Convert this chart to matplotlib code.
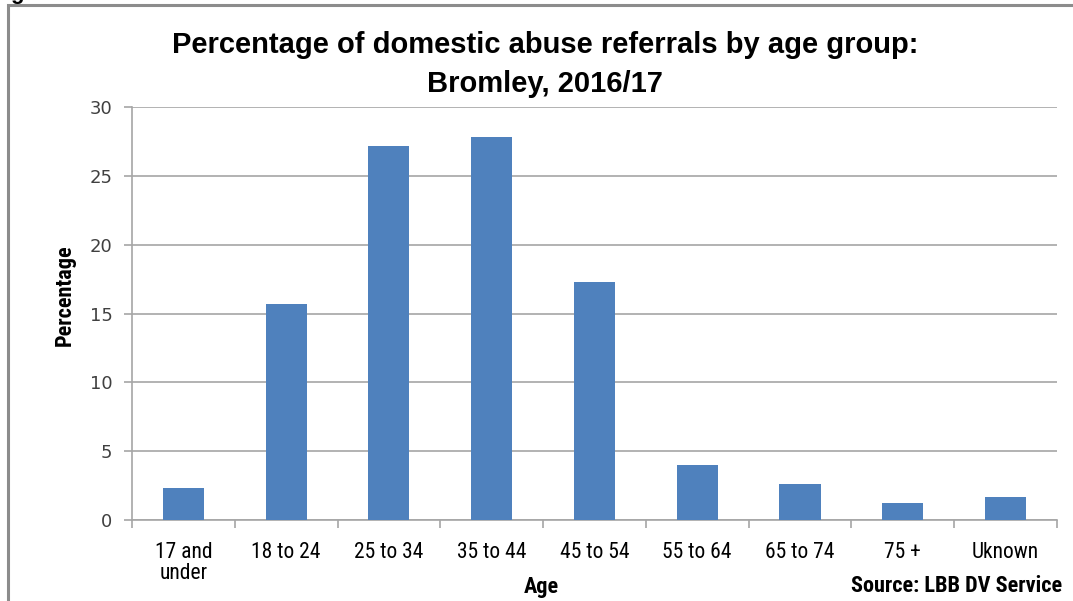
import matplotlib
matplotlib.use("Agg")
from matplotlib import pyplot as plt
from matplotlib.patches import Rectangle
import numpy as np

age_groups = ["17 and\nunder", "18 to 24", "25 to 34", "35 to 44", "45 to 54",
              "55 to 64", "65 to 74", "75 +", "Uknown"]
percentages = [2.3, 15.7, 27.2, 27.8, 17.3, 4.0, 2.6, 1.2, 1.7]
y_ticks = [0, 5, 10, 15, 20, 25, 30]

narrow = ["Arial Narrow", "Liberation Sans Narrow", "Roboto Condensed",
          "Barlow Semi Condensed", "Liberation Sans", "DejaVu Sans"]
wide = ["Liberation Sans", "DejaVu Sans"]

fig = plt.figure(figsize=(10.73, 6.01), dpi=100)
ax = fig.add_axes([0.123, 0.1348, 0.862, 0.687])

x = np.arange(len(age_groups))
ax.bar(x, percentages, width=0.4, color="#4F81BD", zorder=3)

ax.set_xlim(-0.5, len(age_groups) - 0.5)
ax.set_ylim(0, 30)
ax.set_yticks(y_ticks)
ax.set_yticklabels([str(t) for t in y_ticks], fontsize=13, color="#404040")
ax.yaxis.grid(True, color="#A6A6A6", linewidth=1.2, zorder=0)

ax.set_xticks(x)
ax.set_xticklabels(age_groups, fontsize=15.5, family=narrow, va="top", linespacing=1.0)
ax.set_xticks(np.arange(-0.5, len(age_groups)), minor=True)
ax.tick_params(axis="x", which="major", length=0, pad=16)
ax.tick_params(axis="x", which="minor", length=6, color="#A6A6A6", width=1.2)
ax.tick_params(axis="y", length=6, color="#A6A6A6", width=1.2, pad=8)

for side in ["top", "right"]:
    ax.spines[side].set_visible(False)
for side in ["left", "bottom"]:
    ax.spines[side].set_color("#A6A6A6")
    ax.spines[side].set_linewidth(1.2)

fig.text(65 / 1073, 1 - 295 / 601, "Percentage", fontsize=16, fontweight="bold",
         family=narrow, rotation=90, ha="center", va="center")
fig.text(541 / 1073, 1 - 587 / 601, "Age", fontsize=16, fontweight="bold",
         family=narrow, ha="center", va="center")
fig.text(1062 / 1073, 1 - 586 / 601, "Source: LBB DV Service", fontsize=16,
         fontweight="bold", family=narrow, ha="right", va="center")
fig.text(545 / 1073, 1 - 31 / 601,
         "Percentage of domestic abuse referrals by age group:\nBromley, 2016/17",
         fontsize=21, fontweight="bold", family=wide, ha="center", va="top",
         linespacing=1.5)

# partly cut-off heading above the chart box
fig.text(10 / 1073, 1 + 1.5 / 601, "g", fontsize=16, fontweight="bold",
         family=wide, ha="left", va="baseline")

fig.patches.append(Rectangle((0.0075, -0.1), 1.2, 1.092, transform=fig.transFigure,
                             fill=False, edgecolor="#8C8C8C", linewidth=2.2))

fig.savefig("out.png", dpi=100)
